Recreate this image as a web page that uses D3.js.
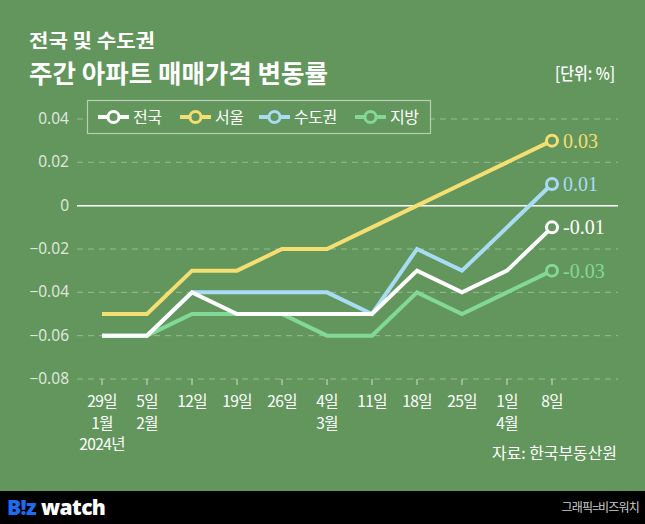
<!DOCTYPE html>
<html><head><meta charset="utf-8">
<script src="https://cdn.jsdelivr.net/npm/d3@7"></script>
<style>
html,body{margin:0;padding:0;background:#62965c;}
svg{display:block;}
</style></head>
<body>
<svg id="c" width="645" height="524"></svg>
<script>
const categories = ["29일","5일","12일","19일","26일","4일","11일","18일","25일","1일","8일"];
const monthLabels = ["1월","2월","","","","3월","","","","4월",""];
const yearLabels = ["2024년","","","","","","","","","",""];
const seriesNames = ["전국","서울","수도권","지방"];
const nationwide = [-0.06,-0.06,-0.04,-0.05,-0.05,-0.05,-0.05,-0.03,-0.04,-0.03,-0.01];
const seoul      = [-0.05,-0.05,-0.03,-0.03,-0.02,-0.02,-0.01,0.00,0.01,0.02,0.03];
const capital    = [-0.06,-0.06,-0.04,-0.04,-0.04,-0.04,-0.05,-0.02,-0.03,-0.01,0.01];
const regional   = [-0.06,-0.06,-0.05,-0.05,-0.05,-0.06,-0.06,-0.04,-0.05,-0.04,-0.03];
const yTicks = [0.04,0.02,0,-0.02,-0.04,-0.06,-0.08];
const endLabels = ["-0.01","0.03","0.01","-0.03"];

const colors = ["#ffffff","#f5de72","#a9dcf4","#82d896"];
const bg = "#62965c";
const svg = d3.select("#c");
const font = "'Noto Sans CJK KR','Noto Sans',sans-serif";

svg.append("rect").attr("width",645).attr("height",524).attr("fill",bg);
svg.append("rect").attr("y",491).attr("width",645).attr("height",33).attr("fill","#000");

// titles
svg.append("text").attr("x",29).attr("y",48).text("전국 및 수도권")
  .attr("font-family",font).attr("font-weight",700).attr("font-size",19.5).attr("fill","#fff")
  .attr("textLength",126).attr("lengthAdjust","spacingAndGlyphs");
svg.append("text").attr("x",29).attr("y",83).text("주간 아파트 매매가격 변동률")
  .attr("font-family",font).attr("font-weight",700).attr("font-size",25.5).attr("fill","#fff")
  .attr("textLength",299).attr("lengthAdjust","spacingAndGlyphs");
svg.append("text").attr("x",555).attr("y",80).text("[단위: %]")
  .attr("font-family",font).attr("font-weight",500).attr("font-size",17).attr("fill","#fff")
  .attr("textLength",60).attr("lengthAdjust","spacingAndGlyphs");

const x = d3.scalePoint().domain(categories).range([102,552]);
const y = d3.scaleLinear().domain([-0.08,0.04]).range([379,119]);
const gx0 = 77, gx1 = 618;

// grid
const g = svg.append("g");
yTicks.forEach(t=>{
  g.append("line").attr("x1",gx0).attr("x2",gx1).attr("y1",y(t)).attr("y2",y(t))
   .attr("stroke", t===0 ? "#ffffff" : "rgba(255,255,255,0.35)")
   .attr("stroke-width", t===0 ? 1.5 : 1)
   .attr("stroke-dasharray", t===0 ? null : "6,5");
  g.append("text").attr("x",69).attr("y",y(t)+5).attr("text-anchor","end")
   .attr("font-family","'Noto Sans',sans-serif").attr("font-size",15.5).attr("fill","#dfe6dc")
   .text(t===0?"0":d3.format(".2f")(t).replace("-","−"));
});

// x axis ticks and labels
categories.forEach((c,i)=>{
  const xx = x(c);
  g.append("line").attr("x1",xx).attr("x2",xx).attr("y1",379).attr("y2",385)
   .attr("stroke","rgba(255,255,255,0.7)").attr("stroke-width",1);
  [c, monthLabels[i], yearLabels[i]].forEach((t,k)=>{
    if(!t) return;
    g.append("text").attr("x",xx).attr("y",407+k*21.5).attr("text-anchor","middle")
     .attr("font-family",font).attr("font-size",15.5).attr("fill","#fff").attr("letter-spacing",-0.6).text(t);
  });
});

const allSeries = [nationwide, seoul, capital, regional];
const line = d3.line().x((d,i)=>x(categories[i])).y(d=>y(d));
const order = [1,2,3,0];
order.forEach(si=>{
  const s = allSeries[si];
  svg.append("path").attr("d",line(s)).attr("fill","none").attr("stroke",colors[si])
    .attr("stroke-width",4).attr("stroke-linejoin","miter");
});
order.forEach(si=>{
  const s = allSeries[si];
  const last = s.length-1;
  svg.append("circle").attr("cx",x(categories[last])).attr("cy",y(s[last])).attr("r",5.5)
    .attr("fill",bg).attr("stroke",colors[si]).attr("stroke-width",3);
  svg.append("text").attr("x",x(categories[last])+11).attr("y",y(s[last])+7)
    .attr("font-family","'Liberation Serif','DejaVu Serif',serif").attr("font-size",20)
    .attr("fill",colors[si]).text(endLabels[si]);
});

// legend
svg.append("rect").attr("x",87.5).attr("y",100.5).attr("width",343).attr("height",33)
  .attr("fill",bg).attr("stroke","rgba(255,255,255,0.55)").attr("stroke-width",1.2);
const legX = [98,180,259,355];
seriesNames.forEach((n,i)=>{
  const lx = legX[i];
  svg.append("line").attr("x1",lx).attr("x2",lx+31).attr("y1",117).attr("y2",117)
    .attr("stroke",colors[i]).attr("stroke-width",4);
  svg.append("circle").attr("cx",lx+15.5).attr("cy",117).attr("r",5.5)
    .attr("fill",bg).attr("stroke",colors[i]).attr("stroke-width",3);
  svg.append("text").attr("x",lx+35).attr("y",123).text(n)
    .attr("font-family",font).attr("font-size",16).attr("fill","#fff").attr("letter-spacing",-0.5);
});

// source
svg.append("text").attr("x",492).attr("y",459).text("자료: 한국부동산원")
  .attr("font-family",font).attr("font-size",15.5).attr("fill","#fff")
  .attr("textLength",125).attr("lengthAdjust","spacingAndGlyphs");

// footer
const logo = svg.append("text").attr("x",7).attr("y",515)
  .attr("font-family","'Open Sans','Noto Sans',sans-serif").attr("font-weight",800).attr("font-size",21).attr("letter-spacing",-0.6);
logo.append("tspan").attr("fill","#1f6cf0").text("B!z");
logo.append("tspan").attr("fill","#fff").attr("dx",5).text("watch");
svg.append("text").attr("x",639).attr("y",512).attr("text-anchor","end").text("그래픽=비즈워치")
  .attr("font-family",font).attr("font-size",12).attr("fill","#cfcfcf").attr("letter-spacing",-0.8);
</script>
</body></html>
